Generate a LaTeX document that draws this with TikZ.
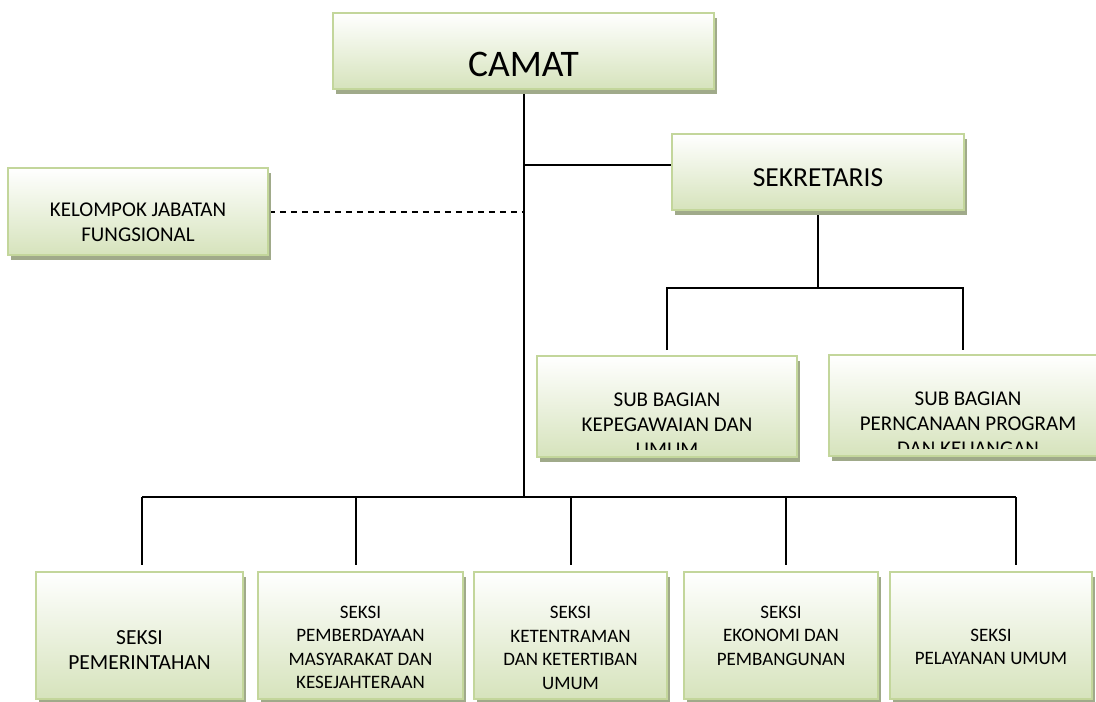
\documentclass[tikz,border=0pt]{standalone}
\usepackage{fontspec}
\setmainfont{Carlito}
\usetikzlibrary{calc, shadows, backgrounds}
\definecolor{boxline}{RGB}{195,214,155}
\definecolor{boxgreen}{RGB}{214,227,188}
\definecolor{boxshadow}{RGB}{160,170,138}
\newcommand{\fsz}[2]{\fontsize{#1}{#2}\selectfont}

\tikzset{
  orgbox/.style={draw=boxline, line width=1.6pt, top color=white, bottom color=boxgreen, inner sep=0pt,
    drop shadow={shadow xshift=3pt, shadow yshift=-5pt, fill=boxshadow, opacity=1}},
  boxtext/.style 2 args={path picture={
      \clip ([yshift=8pt]path picture bounding box.south west) rectangle (path picture bounding box.north east);
      \node[align=center, inner sep=0pt, minimum width=0pt, minimum height=0pt, draw=none, #1]
        at (path picture bounding box.center) {#2};}},
  conn/.style={line width=2pt, black}
}

\begin{document}
\begin{tikzpicture}[x=1pt, y=-1pt]
  \useasboundingbox (0,0) rectangle (1096,702);

  % top
  \node[orgbox, minimum width=381, minimum height=76,
    boxtext={font=\fsz{37.5}{45}, yshift=-13pt}{CAMAT}] (camat) at (523.5,51) {};
  \node[orgbox, minimum width=292, minimum height=76,
    boxtext={font=\fsz{27.5}{33}, yshift=-5.5pt}{SEKRETARIS}] (sekr) at (818,172) {};
  \node[orgbox, minimum width=260, minimum height=87,
    boxtext={font=\fsz{21}{25.5}, yshift=-11pt}{KELOMPOK JABATAN\\FUNGSIONAL}] (kelompok) at (138,211.5) {};

  % sub bagian
  \node[orgbox, minimum width=260, minimum height=101,
    boxtext={font=\fsz{21}{25}, yshift=-18.5pt}{SUB BAGIAN\\KEPEGAWAIAN DAN\\UMUM}] (sub1) at (667,406.5) {};
  \node[orgbox, minimum width=278, minimum height=101,
    boxtext={font=\fsz{21}{25}, yshift=-18.5pt}{SUB BAGIAN\\PERNCANAAN PROGRAM\\DAN KEUANGAN}] (sub2) at (968,405.5) {};

  % seksi
  \node[orgbox, minimum width=207, minimum height=127,
    boxtext={font=\fsz{21.5}{25.7}, yshift=-14.5pt}{SEKSI\\PEMERINTAHAN}] (b1) at (139.5,635.5) {};
  \node[orgbox, minimum width=205, minimum height=127,
    boxtext={font=\fsz{19}{23.5}, yshift=-12pt}{SEKSI\\PEMBERDAYAAN\\MASYARAKAT DAN\\KESEJAHTERAAN}] (b2) at (360.5,635.5) {};
  \node[orgbox, minimum width=193, minimum height=127,
    boxtext={font=\fsz{19}{23.5}, yshift=-12.5pt}{SEKSI\\KETENTRAMAN\\DAN KETERTIBAN\\UMUM}] (b3) at (570.5,635.5) {};
  \node[orgbox, minimum width=194, minimum height=127,
    boxtext={font=\fsz{19}{23.5}, yshift=0pt}{SEKSI\\EKONOMI DAN\\PEMBANGUNAN}] (b4) at (781,635.5) {};
  \node[orgbox, minimum width=202, minimum height=127,
    boxtext={font=\fsz{19}{23.5}, yshift=-11.5pt}{SEKSI\\PELAYANAN UMUM}] (b5) at (991,635.5) {};

  \begin{scope}[on background layer]
    \coordinate (bus) at (523.5,497);
    \coordinate (jsek) at (523.5,165);
    \coordinate (jsub) at (818,288);
    \draw[conn] (camat.south) -- (bus);
    \draw[conn] (jsek) -- (jsek -| sekr.west);
    \draw[conn, dash pattern=on 6pt off 5pt] (kelompok.east) -- (kelompok.east -| bus);
    \draw[conn] (sekr.south) -- (jsub);
    \draw[conn] ($(sub1.north)+(0,-5)$) |- (jsub) -| ($(sub2.north -| 963,0)+(0,-4)$);
    \draw[conn] (bus -| 142,0) -- (bus -| 1016,0);
    \foreach \b/\x in {b1/142, b2/356, b3/571, b4/786, b5/1016}
      \draw[conn] (bus -| \x,0) -- ($(\b.north -| \x,0)+(0,-6)$);
  \end{scope}
\end{tikzpicture}
\end{document}
